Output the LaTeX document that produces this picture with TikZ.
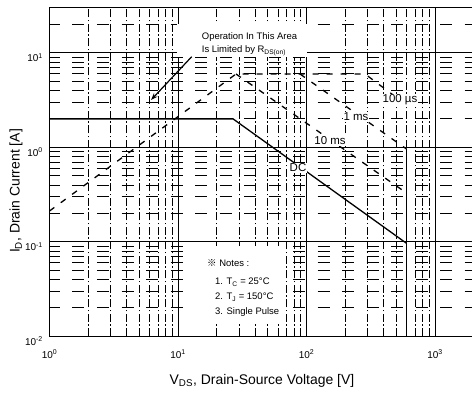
\documentclass[tikz,border=0pt]{standalone}
\usepackage{fontspec}
\setmainfont{Liberation Sans}
\newfontfamily\cjk{Noto Sans CJK JP}
\usepackage{tkz-euclide}
\usetikzlibrary{arrows.meta}

\begin{document}
\begin{tikzpicture}[x=128.5bp,y=94.5bp,
    minorv/.style={line width=.75bp,dash pattern=on 8bp off 2.5bp on 1.5bp off 2.5bp},
    minorh/.style={line width=.75bp,dash pattern=on 12bp off 12.5bp,dash phase=1.5bp},
    major/.style={line width=.9bp},
    soa/.style={line width=1.3bp,dash pattern=on 6bp off 8bp},
    dcline/.style={line width=1.3bp},
    lbl/.style={fill=white,inner sep=1bp,font=\fontsize{11.5}{12}\selectfont},
    note/.style={anchor=west,inner sep=0pt,font=\fontsize{9.5}{11}\selectfont},
    tick/.style={inner sep=0pt,font=\fontsize{10}{11}\selectfont}
    ]
\useasboundingbox (-0.3852,-2.6106) rectangle (3.2879,1.5587);
% log-log grid
\begin{scope}
\clip (0,-2) rectangle (3.2879,1.4794);
\foreach \d in {0,1,2}
  \foreach \k in {2,...,9}{
    \pgfmathsetmacro\lx{\d+log10(\k)}
    \draw[minorv] (\lx,-2) -- (\lx,1.4794);
}
\foreach \d in {-2,-1,0,1}
  \foreach \k in {2,...,9}{
    \pgfmathsetmacro\ly{\d+log10(\k)}
    \draw[minorh] (0,\ly) -- (3.2879,\ly);
}
\foreach \d in {1,2,3}
  \draw[major] (\d,-2) -- (\d,1.4794);
\foreach \d in {-1,0,1}
  \draw[major] (0,\d) -- (3.2879,\d);
\end{scope}
\draw[line width=1.1bp] (3.2879,1.4794) -- (0,1.4794) -- (0,-2) -- (3.2879,-2);
% room for the texts
\fill[white] (0.9922,0.9556) rectangle (2.0050,1.3048);
\fill[white] (1.0934,-1.8698) rectangle (1.8093,-1.0444);
% corner points of the limits
\tkzDefPoints{0/-0.674/R1,1.4514/0.7757/R2,2.4553/0.7757/R3,1.9494/0.7757/M1}
\tkzDefPoints{2.7782/-0.018/M2,2.7782/-0.4836/T2,2.7782/0.4476/H2}
\tkzDefPoints{0/0.301/D0,1.428/0.301/D1,2.7782/-1.016/D2,2.7782/-2/D3}
\tkzDefPoints{1.1066/0.9587/W1,0.7899/0.5005/W2}
\draw[soa] (R1) -- (R2) -- (R3) -- (H2);
\draw[soa] (M1) -- (M2);
\draw[soa] (R2) -- (T2);
\draw[dcline] (D0) -- (D1) -- (D2);
\draw[dcline] (M2) -- (D3);
\draw[line width=1.2bp,-{Stealth[length=7bp,width=5bp]}] (W1) -- (W2);
% labels on the lines
\node[lbl] (dc) at (1.9339,-0.2190) {DC};
\node[lbl] (ms10) at (2.1829,0.0667) {10 ms};
\node[lbl] (ms1) at (2.3852,0.3196) {1 ms};
\node[lbl] (us100) at (2.7276,0.5005) {100 µs};
\node[note] (op1) at (1.1844,1.1619) {Operation In This Area};
\node[note] (op2) at (1.1844,1.0243) {Is Limited by R\textsubscript{DS(on)}};
\node[note] (n0) at (1.2257,-1.2243) {{\cjk ※} Notes :};
\node[note] (n1) at (1.2879,-1.4254) {1. T\textsubscript{C} = 25°C};
\node[note] (n2) at (1.2879,-1.5841) {2. T\textsubscript{J} = 150°C};
\node[note] (n3) at (1.2879,-1.7429) {3. Single Pulse};
% axes
\foreach \d in {0,1,2,3}
  \draw (\d,-2.1873) node[tick] {10\textsuperscript{\d}};
\foreach \d in {-2,-1,0,1}
  \draw (-0.0506,\d-0.053) node[tick,anchor=east] {10\textsuperscript{\d}};
\node[font=\fontsize{14}{16}\selectfont] (xtitle) at (1.6537,-2.4731)
  {V\textsubscript{DS}, Drain-Source Voltage [V]};
\node[font=\fontsize{14}{16}\selectfont,rotate=90] (ytitle) at (-0.2607,-0.4624)
  {I\textsubscript{D}, Drain Current [A]};
\end{tikzpicture}
\end{document}
